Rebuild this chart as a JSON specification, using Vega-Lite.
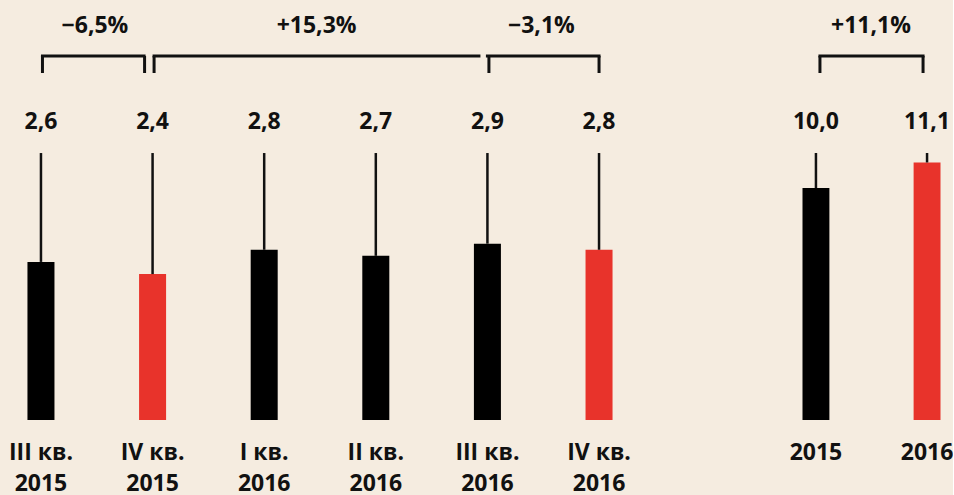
{
  "$schema": "https://vega.github.io/schema/vega-lite/v6.json",
  "background": "#f5ece0",
  "padding": 0,
  "bounds": "flush",
  "spacing": 162.5,
  "config": {
    "view": {"stroke": null},
    "locale": {"number": {"decimal": ",", "thousands": "\u00a0", "grouping": [3], "currency": ["", ""]}},
    "axis": {
      "domain": false, "ticks": false, "grid": false,
      "labelFont": "Open Sans", "labelFontWeight": "bold", "labelFontSize": 23,
      "labelColor": "#111111", "labelPadding": 21, "labelLineHeight": 31, "labelAngle": 0,
      "labelOverlap": false
    },
    "text": {"font": "Open Sans", "fontWeight": "bold", "fontSize": 23, "color": "#111111", "baseline": "middle"}
  },
  "datasets": {
    "quarters": [
      {"period": "III кв. 2015", "value": 2.6},
      {"period": "IV кв. 2015", "value": 2.4},
      {"period": "I кв. 2016", "value": 2.8},
      {"period": "II кв. 2016", "value": 2.7},
      {"period": "III кв. 2016", "value": 2.9},
      {"period": "IV кв. 2016", "value": 2.8}
    ],
    "quarterChanges": [
      {"from": "III кв. 2015", "to": "IV кв. 2015", "change": -0.065},
      {"from": "IV кв. 2015", "to": "III кв. 2016", "change": 0.153},
      {"from": "III кв. 2016", "to": "IV кв. 2016", "change": -0.031}
    ],
    "years": [
      {"period": "2015", "value": 10.0},
      {"period": "2016", "value": 11.1}
    ],
    "yearChanges": [
      {"from": "2015", "to": "2016", "change": 0.111}
    ]
  },
  "hconcat": [
    {
      "width": 640,
      "height": 420,
      "layer": [
        {
          "data": {"name": "quarters"},
          "mark": {"type": "bar"},
          "encoding": {
            "x": {"field": "period", "type": "nominal", "sort": null,
              "scale": {"domain": ["III кв. 2015", "IV кв. 2015", "I кв. 2016", "II кв. 2016", "III кв. 2016", "IV кв. 2016"], "paddingInner": 0.758, "paddingOuter": 0.246},
              "axis": {"title": null, "labelExpr": "[slice(datum.label, 0, -5), slice(datum.label, -4)]"}},
            "y": {"field": "value", "type": "quantitative", "scale": {"domain": [0, 6.908], "nice": false, "zero": true}, "axis": null},
            "color": {"condition": {"test": "indexof(datum.period, 'IV') == 0", "value": "#e8332b"}, "value": "#000000"}
          }
        },
        {
          "data": {"name": "quarters"},
          "mark": {"type": "rule", "strokeWidth": 2.5, "color": "#111111"},
          "encoding": {
            "x": {"field": "period", "type": "nominal"},
            "y": {"field": "value", "type": "quantitative"},
            "y2": {"datum": 4.391}
          }
        },
        {
          "data": {"name": "quarters"},
          "mark": {"type": "text"},
          "encoding": {
            "x": {"field": "period", "type": "nominal"},
            "y": {"datum": 4.909, "type": "quantitative"},
            "text": {"field": "value", "type": "quantitative", "format": ".1f"}
          }
        },
        {
          "data": {"name": "quarterChanges"},
          "mark": {"type": "rule", "strokeWidth": 3, "color": "#111111", "xOffset": 1.5},
          "encoding": {
            "x": {"field": "from", "type": "nominal"},
            "y": {"datum": 5.987, "type": "quantitative"},
            "y2": {"datum": 5.707}
          }
        },
        {
          "data": {"name": "quarterChanges"},
          "transform": [{"filter": "datum.to == 'IV кв. 2015'"}],
          "mark": {"type": "rule", "strokeWidth": 3, "color": "#111111", "xOffset": -8},
          "encoding": {
            "x": {"field": "to", "type": "nominal"},
            "y": {"datum": 5.987, "type": "quantitative"},
            "y2": {"datum": 5.707}
          }
        },
        {
          "data": {"name": "quarterChanges"},
          "transform": [{"filter": "datum.to == 'IV кв. 2016'"}],
          "mark": {"type": "rule", "strokeWidth": 3, "color": "#111111"},
          "encoding": {
            "x": {"field": "to", "type": "nominal"},
            "y": {"datum": 5.987, "type": "quantitative"},
            "y2": {"datum": 5.707}
          }
        },
        {
          "data": {"name": "quarterChanges"},
          "transform": [{"filter": "datum.to != 'IV кв. 2016'"}],
          "mark": {"type": "rule", "strokeWidth": 3, "color": "#111111", "xOffset": 1.5, "x2Offset": -8.5, "strokeCap": "square"},
          "encoding": {
            "x": {"field": "from", "type": "nominal"},
            "x2": {"field": "to"},
            "y": {"datum": 5.987, "type": "quantitative"}
          }
        },
        {
          "data": {"name": "quarterChanges"},
          "transform": [{"filter": "datum.to == 'IV кв. 2016'"}],
          "mark": {"type": "rule", "strokeWidth": 3, "color": "#111111", "strokeCap": "square"},
          "encoding": {
            "x": {"field": "from", "type": "nominal"},
            "x2": {"field": "to"},
            "y": {"datum": 5.987, "type": "quantitative"}
          }
        },
        {
          "data": {"name": "quarterChanges"},
          "transform": [{"filter": "datum.to != 'III кв. 2016'"}],
          "mark": {"type": "text", "dx": 54},
          "encoding": {
            "x": {"field": "from", "type": "nominal"},
            "y": {"datum": 6.48, "type": "quantitative"},
            "text": {"field": "change", "type": "quantitative", "format": "+.1%"}
          }
        },
        {
          "data": {"name": "quarterChanges"},
          "transform": [{"filter": "datum.to == 'III кв. 2016'"}],
          "mark": {"type": "text", "dx": 164},
          "encoding": {
            "x": {"field": "from", "type": "nominal"},
            "y": {"datum": 6.48, "type": "quantitative"},
            "text": {"field": "change", "type": "quantitative", "format": "+.1%"}
          }
        }
      ]
    },
    {
      "width": 138,
      "height": 420,
      "layer": [
        {
          "data": {"name": "years"},
          "mark": {"type": "bar"},
          "encoding": {
            "x": {"field": "period", "type": "nominal", "sort": null,
              "scale": {"domain": ["2015", "2016"], "paddingInner": 0.758, "paddingOuter": 0, "align": 0},
              "axis": {"title": null}},
            "y": {"field": "value", "type": "quantitative", "scale": {"domain": [0, 18.103], "nice": false, "zero": true}, "axis": null},
            "color": {"condition": {"test": "datum.period == '2016'", "value": "#e8332b"}, "value": "#000000"}
          }
        },
        {
          "data": {"name": "years"},
          "mark": {"type": "rule", "strokeWidth": 2.5, "color": "#111111"},
          "encoding": {
            "x": {"field": "period", "type": "nominal"},
            "y": {"field": "value", "type": "quantitative"},
            "y2": {"datum": 11.509}
          }
        },
        {
          "data": {"name": "years"},
          "mark": {"type": "text"},
          "encoding": {
            "x": {"field": "period", "type": "nominal"},
            "y": {"datum": 12.866, "type": "quantitative"},
            "text": {"field": "value", "type": "quantitative", "format": ".1f"}
          }
        },
        {
          "data": {"name": "yearChanges"},
          "mark": {"type": "rule", "strokeWidth": 3, "color": "#111111", "xOffset": 4},
          "encoding": {
            "x": {"field": "from", "type": "nominal"},
            "y": {"datum": 15.69, "type": "quantitative"},
            "y2": {"datum": 14.957}
          }
        },
        {
          "data": {"name": "yearChanges"},
          "mark": {"type": "rule", "strokeWidth": 3, "color": "#111111", "xOffset": -4},
          "encoding": {
            "x": {"field": "to", "type": "nominal"},
            "y": {"datum": 15.69, "type": "quantitative"},
            "y2": {"datum": 14.957}
          }
        },
        {
          "data": {"name": "yearChanges"},
          "mark": {"type": "rule", "strokeWidth": 3, "color": "#111111", "xOffset": 4, "x2Offset": -4, "strokeCap": "square"},
          "encoding": {
            "x": {"field": "from", "type": "nominal"},
            "x2": {"field": "to"},
            "y": {"datum": 15.69, "type": "quantitative"}
          }
        },
        {
          "data": {"name": "yearChanges"},
          "mark": {"type": "text", "dx": 55},
          "encoding": {
            "x": {"field": "from", "type": "nominal"},
            "y": {"datum": 16.983, "type": "quantitative"},
            "text": {"field": "change", "type": "quantitative", "format": "+.1%"}
          }
        }
      ]
    }
  ]
}
